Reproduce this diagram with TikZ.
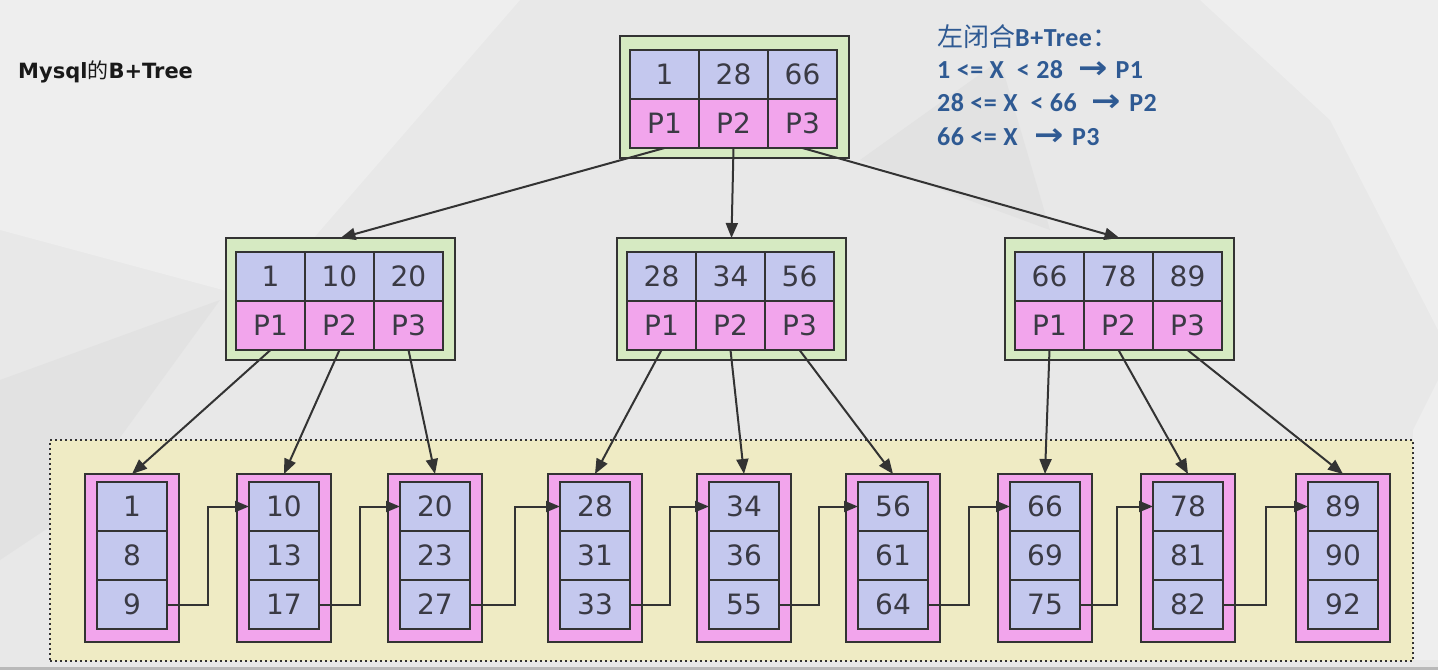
\documentclass[tikz,border=0pt]{standalone}
\usepackage{fontspec}
\usetikzlibrary{arrows.meta,calc}
\newfontfamily\numfont{DejaVu Sans}
\newfontfamily\cjkfont{Noto Sans CJK SC}
\newfontfamily\carlito{Carlito}[LetterSpace=2]
\definecolor{bg}{HTML}{E8E8E8}
\definecolor{bglight}{HTML}{EEEEEE}
\definecolor{bgdark}{HTML}{E2E2E2}
\definecolor{ln}{HTML}{333333}
\definecolor{txt}{HTML}{3A3A44}
\definecolor{kblue}{HTML}{C4C8EE}
\definecolor{ppink}{HTML}{F2A5EC}
\definecolor{ggreen}{HTML}{D6EAC2}
\definecolor{yel}{HTML}{EFEBC4}
\definecolor{nblue}{HTML}{2F5A93}
\tikzset{
  cellbase/.style={rectangle, draw=ln, line width=2pt, inner sep=0pt, outer sep=0pt,
    text=txt, font=\numfont\fontsize{28}{30}\selectfont},
  kc/.style={cellbase, fill=kblue, minimum width=69pt, minimum height=49pt},
  pc/.style={cellbase, fill=ppink, minimum width=69pt, minimum height=49pt},
  lc/.style={cellbase, fill=kblue, minimum width=70pt, minimum height=49pt},
  gbox/.style={rectangle, draw=ln, line width=2.5pt, fill=ggreen, inner sep=0pt, outer sep=0pt,
    minimum width=229pt, minimum height=122pt},
  lbox/.style={rectangle, draw=ln, line width=2.5pt, fill=ppink, inner sep=0pt, outer sep=0pt,
    minimum width=94pt, minimum height=168pt},
  arr/.style={draw=ln, line width=2pt, -{Triangle[length=15pt,width=12pt]}},
  larr/.style={draw=ln, line width=2pt, -{Triangle[length=14pt,width=11pt]}},
  rtext/.style={anchor=base west, inner sep=0pt, text=nblue, font=\carlito\bfseries\fontsize{26}{28}\selectfont},
}
\newcommand\inode[6]{%
  \node[gbox,anchor=north west] (#1) at (#2,#3) {};
  \node[kc,anchor=north west] (#1k1) at ([xshift=10pt,yshift=-14pt]#1.north west) {#4};
  \node[kc,anchor=north west] (#1k2) at ([xshift=79pt,yshift=-14pt]#1.north west) {#5};
  \node[kc,anchor=north west] (#1k3) at ([xshift=148pt,yshift=-14pt]#1.north west) {#6};
  \node[pc,anchor=north west] (#1p1) at ([xshift=10pt,yshift=-63pt]#1.north west) {P1};
  \node[pc,anchor=north west] (#1p2) at ([xshift=79pt,yshift=-63pt]#1.north west) {P2};
  \node[pc,anchor=north west] (#1p3) at ([xshift=148pt,yshift=-63pt]#1.north west) {P3};
}
\newcommand\leafnode[5]{%
  \node[lbox,anchor=north west] (#1) at (#2,474) {};
  \node[lc,anchor=north west] (#1a) at ([xshift=12pt,yshift=-8pt]#1.north west) {#3};
  \node[lc,anchor=north west] (#1b) at ([xshift=12pt,yshift=-57pt]#1.north west) {#4};
  \node[lc,anchor=north west] (#1c) at ([xshift=12pt,yshift=-106pt]#1.north west) {#5};
}
\newcommand\arrsym{\scalebox{1.35}[1.2]{\numfont\bfseries →}}
\begin{document}
\begin{tikzpicture}[x=1pt,y=-1pt]
\useasboundingbox (0,0) rectangle (1438,670);
% background
\fill[bg] (0,0) rectangle (1438,670);
\fill[bglight] (0,0) -- (520,0) -- (260,300) -- (0,230) -- cycle;
\fill[bglight] (1200,0) -- (1438,0) -- (1438,330) -- (1330,120) -- cycle;
\fill[bgdark] (0,380) -- (220,300) -- (60,520) -- (0,560) -- cycle;
\fill[bgdark] (860,160) -- (1000,60) -- (1050,230) -- cycle;
\fill[bglight] (1413,430) -- (1438,380) -- (1438,660) -- (1413,660) -- cycle;
\fill[gray!55] (0,666.5) rectangle (1438,670);
% leaf area
\node[draw=ln, line width=2pt, dash pattern=on 2pt off 3pt, fill=yel, inner sep=0pt, outer sep=0pt,
  minimum width=1363pt, minimum height=221pt, anchor=north west] (leafarea) at (50,440) {};
% title texts
\node[anchor=base west, inner sep=0pt, text=black!90, font=\numfont\bfseries\fontsize{21}{24}\selectfont]
  (title) at (18,78) {Mysql{\cjkfont\mdseries 的}B+Tree};
\node[rtext] (t1) at (937,46) {{\cjkfont\mdseries\fontsize{26}{28}\selectfont 左闭合}B+Tree{\cjkfont\mdseries ：}};
\node[rtext] (t2) at (937,78) {1 <= X\hspace{13pt}< 28\hspace{15pt}\arrsym\hspace{8pt}P1};
\node[rtext] (t3) at (937,111.5) {28 <= X\hspace{13pt}< 66\hspace{15pt}\arrsym\hspace{8pt}P2};
\node[rtext] (t4) at (937,145) {66 <= X\hspace{17pt}\arrsym\hspace{8pt}P3};
% internal nodes
\inode{rt}{620}{36}{1}{28}{66}
\inode{na}{226}{238}{1}{10}{20}
\inode{nb}{617}{238}{28}{34}{56}
\inode{nc}{1005}{238}{66}{78}{89}
% leaves
\leafnode{la}{85}{1}{8}{9}
\leafnode{lb}{237}{10}{13}{17}
\leafnode{lc}{388}{20}{23}{27}
\leafnode{ld}{548}{28}{31}{33}
\leafnode{le}{697}{34}{36}{55}
\leafnode{lf}{846}{56}{61}{64}
\leafnode{lg}{998}{66}{69}{75}
\leafnode{lh}{1141}{78}{81}{82}
\leafnode{li}{1296}{89}{90}{92}
% root -> level 2
\draw[arr] (rtp1.south) -- (na.north);
\draw[arr] (rtp2.south) -- (nb.north);
\draw[arr] (rtp3.south) -- (nc.north);
% level 2 -> leaves
\draw[arr] (nap1.south) -- (la.north);
\draw[arr] (nap2.south) -- (lb.north);
\draw[arr] (nap3.south) -- (lc.north);
\draw[arr] (nbp1.south) -- (ld.north);
\draw[arr] (nbp2.south) -- (le.north);
\draw[arr] (nbp3.south) -- (lf.north);
\draw[arr] (ncp1.south) -- (lg.north);
\draw[arr] (ncp2.south) -- (lh.north);
\draw[arr] (ncp3.south) -- (li.north);
% leaf links
\foreach \p/\q in {la/lb, lb/lc, lc/ld, ld/le, le/lf, lf/lg, lg/lh, lh/li}{
  \coordinate (m\p) at ($(\p.east)!0.5!(\q.west)$);
  \draw[larr] (\p c.east) -| (m\p |- \q a.west) -- (\q a.west);
}
\end{tikzpicture}
\end{document}
